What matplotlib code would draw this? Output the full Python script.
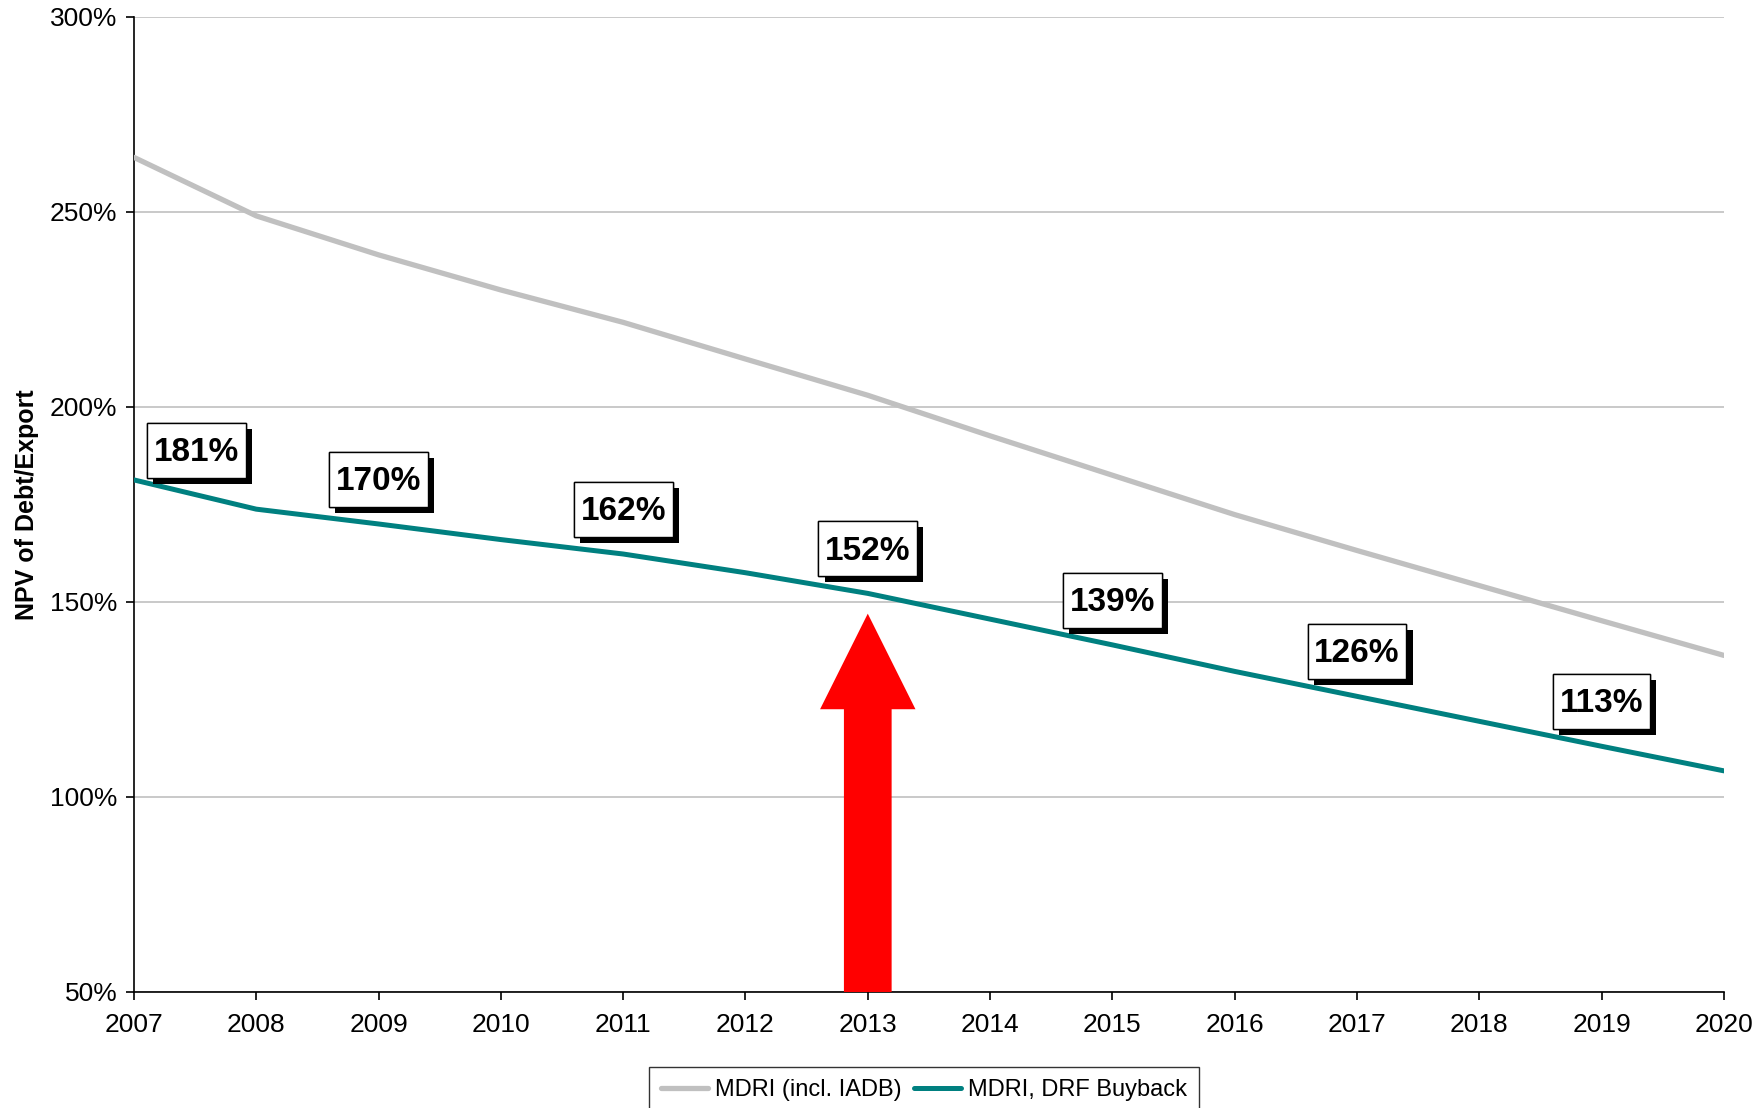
import matplotlib
matplotlib.use("Agg")
import matplotlib.pyplot as plt
import matplotlib.patheffects as pe
from matplotlib.path import Path
from matplotlib.ticker import FuncFormatter, MultipleLocator

years = list(range(2007, 2021))
mdri_iadb = [264, 249, 239, 230, 221.7, 212.3, 203, 192.6, 182.5, 172.4, 163.2, 154.2, 145.2, 136.3]
mdri_drf = [181.3, 173.8, 170, 166, 162.3, 157.5, 152.2, 145.6, 139, 132.2, 125.8, 119.4, 113, 106.7]

label_years = [2007, 2009, 2011, 2013, 2015, 2017, 2019]
label_texts = ["181%", "170%", "162%", "152%", "139%", "126%", "113%"]

series_names = ["MDRI (incl. IADB)", "MDRI, DRF Buyback"]
y_label = "NPV of Debt/Export"

arrow_year = 2013
arrow_base = 50
arrow_tip = 147
arrow_head_len = 24.5

plt.rcParams['font.family'] = ['Liberation Sans', 'DejaVu Sans']


def rect_box(x0, y0, width, height, mutation_size):
    padx = 0.2 * mutation_size
    pad_bottom = 0.29 * mutation_size
    pad_top = 0.43 * mutation_size
    x0, y0 = x0 - padx, y0 - pad_bottom
    x1, y1 = x0 + width + 2 * padx, y0 + height + pad_bottom + pad_top
    return Path([(x0, y0), (x1, y0), (x1, y1), (x0, y1), (x0, y0)],
                [Path.MOVETO, Path.LINETO, Path.LINETO, Path.LINETO, Path.CLOSEPOLY])


fig = plt.figure(figsize=(17.6, 11.08), dpi=100)
ax = fig.add_axes([0.0761, 0.1047, 0.9034, 0.88])

ax.set_xlim(2007, 2020)
ax.set_ylim(50, 300)
ax.yaxis.set_major_locator(MultipleLocator(50))
ax.yaxis.set_major_formatter(FuncFormatter(lambda v, p: f"{int(v)}%"))
ax.set_xticks(years)
ax.grid(axis='y', color='#c0c0c0', lw=1.2)
ax.set_axisbelow(True)
for s in ['top', 'right']:
    ax.spines[s].set_visible(False)
for s in ['left', 'bottom']:
    ax.spines[s].set_color('black')
    ax.spines[s].set_linewidth(1.2)
ax.tick_params(axis='both', direction='out', length=6, width=1.2, labelsize=19, color='black')
ax.tick_params(axis='x', pad=9)
ax.tick_params(axis='y', pad=6)
ax.set_ylabel(y_label, fontsize=18, fontweight='bold', labelpad=8)

ax.plot(years, mdri_iadb, color='#c0c0c0', lw=3.8, solid_capstyle='round', label=series_names[0], zorder=3)
ax.plot(years, mdri_drf, color='#008080', lw=3.6, solid_capstyle='round', label=series_names[1], zorder=3)

ax.arrow(arrow_year, arrow_base, 0, arrow_tip - arrow_base, width=0.39, head_width=0.78,
         head_length=arrow_head_len, length_includes_head=True, color='#ff0000', lw=0, zorder=4)

for i, (yr, txt) in enumerate(zip(label_years, label_texts)):
    val = mdri_drf[years.index(yr)]
    if i == 0:
        offs = (45, 19.5)
    else:
        offs = (0, 30.5)
    t = ax.annotate(txt, xy=(yr, val), xytext=offs, textcoords='offset points',
                    ha='center', va='center', fontsize=24, fontweight='bold', zorder=6,
                    bbox=dict(boxstyle=rect_box, fc='white', ec='black', lw=1))
    t.get_bbox_patch().set_path_effects([
        pe.withSimplePatchShadow(offset=(4.5, -4.5), shadow_rgbFace='black', alpha=1.0, rho=1.0),
        pe.Normal()])

leg = fig.legend(loc='upper center', bbox_to_anchor=(0.525, 0.037), ncol=2, fontsize=17,
                 frameon=True, fancybox=False, edgecolor='black', handlelength=2.0,
                 handletextpad=0.3, columnspacing=0.5, borderpad=0.5, borderaxespad=0)
leg.get_frame().set_linewidth(1.0)

fig.savefig("out.png", dpi=100)
